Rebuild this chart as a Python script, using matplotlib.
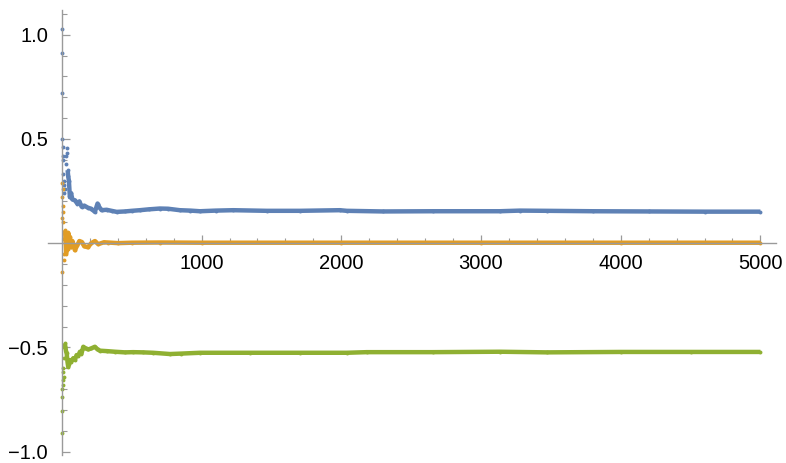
import numpy as np
import matplotlib
matplotlib.use("Agg")
import matplotlib.pyplot as plt
from matplotlib.ticker import MultipleLocator, FixedLocator

plt.rcParams["font.family"] = ["Liberation Sans", "DejaVu Sans"]

# ── values (running estimates vs. sample count) ──
blue_x = [1, 2, 3, 4, 5, 6, 8, 10, 12, 15, 18, 22, 26, 30, 34, 38, 41, 45, 50,
          57, 65, 75, 93, 110, 125, 141, 160, 186, 210, 236, 255, 270, 284,
          320, 355, 392, 451, 500, 558, 620, 701, 760, 844, 920, 988, 1100,
          1226, 1466, 1703, 1989, 2039, 2297, 2656, 3134, 3278, 3471, 3800,
          4200, 4600, 5000]
blue_y = [1.026, 0.91, 0.72, 0.50, 0.46, 0.42, 0.40, 0.33, 0.28, 0.24, 0.30,
          0.26, 0.38, 0.42, 0.454, 0.43, 0.35, 0.32, 0.30, 0.22, 0.24, 0.21,
          0.205, 0.19, 0.20, 0.175, 0.18, 0.17, 0.165, 0.15, 0.19, 0.17,
          0.158, 0.16, 0.155, 0.150, 0.152, 0.155, 0.158, 0.162, 0.166,
          0.165, 0.158, 0.156, 0.153, 0.156, 0.158, 0.155, 0.155, 0.158,
          0.155, 0.152, 0.153, 0.153, 0.156, 0.155, 0.153, 0.152, 0.151,
          0.151]

orange_x = [1, 2, 3, 4, 5, 6, 8, 10, 12, 15, 18, 21, 25, 30, 35, 40, 45, 50,
            57, 65, 75, 93, 110, 125, 141, 160, 186, 210, 236, 260, 300, 330,
            400, 500, 700, 1000, 2000, 3000, 4000, 5000]
orange_y = [-0.14, 0.29, 0.22, 0.12, 0.26, 0.18, 0.15, 0.10, 0.02, -0.08,
            -0.05, 0.062, 0.03, -0.05, 0.0, -0.03, 0.05, 0.02, 0.03, -0.02,
            0.01, -0.034, -0.01, 0.01, 0.006, -0.015, -0.02, 0.0, 0.01,
            -0.005, 0.004, 0.003, 0.0, 0.002, 0.003, 0.002, 0.002, 0.002,
            0.002, 0.002]

green_x = [1, 2, 3, 4, 5, 6, 8, 10, 12, 15, 18, 21, 25, 30, 34, 40, 45, 50,
           57, 65, 81, 93, 105, 117, 129, 140, 153, 170, 188, 210, 236, 255,
           272, 320, 379, 451, 510, 580, 653, 773, 850, 988, 1345, 1703,
           2039, 2182, 2656, 3134, 3471, 4000, 4500, 5000]
green_y = [-0.911, -0.806, -0.737, -0.70, -0.657, -0.68, -0.62, -0.60, -0.64,
           -0.55, -0.50, -0.48, -0.50, -0.52, -0.528, -0.57, -0.593, -0.58,
           -0.561, -0.57, -0.552, -0.56, -0.537, -0.54, -0.521, -0.53,
           -0.497, -0.505, -0.51, -0.505, -0.497, -0.51, -0.516, -0.518,
           -0.521, -0.524, -0.523, -0.524, -0.526, -0.532, -0.530, -0.526,
           -0.526, -0.526, -0.526, -0.523, -0.523, -0.521, -0.524, -0.522,
           -0.522, -0.522]

series = [
    (blue_x, blue_y, "#5E81B5", 40),
    (orange_x, orange_y, "#E19C24", 20),
    (green_x, green_y, "#8FB032", 20),
]

fig = plt.figure(figsize=(7.86, 4.63), dpi=100)
ax = fig.add_axes([0.061, 0.017, 0.926, 0.961])

for xs, ys, col, start in series:
    xs = np.asarray(xs)
    ys = np.asarray(ys)
    ax.plot(xs, ys, "o", ms=2.8, color=col, mec="none")
    band = xs >= start
    ax.plot(xs[band], ys[band], "-", lw=3.2, color=col, solid_capstyle="butt")

ax.set_xlim(-100, 5110)
ax.set_ylim(-1.017, 1.1175)

# Mathematica-style axes crossing at the origin
axis_col = "#9a9a9a"
for side in ("top", "right"):
    ax.spines[side].set_visible(False)
ax.spines["left"].set_position(("data", 0))
ax.spines["bottom"].set_position(("data", 0))
for side in ("left", "bottom"):
    ax.spines[side].set_color(axis_col)
    ax.spines[side].set_linewidth(1.0)

ax.xaxis.set_major_locator(FixedLocator([1000, 2000, 3000, 4000, 5000]))
ax.xaxis.set_minor_locator(MultipleLocator(200))
ax.yaxis.set_major_locator(FixedLocator([-1.0, -0.5, 0.5, 1.0]))
ax.yaxis.set_minor_locator(MultipleLocator(0.1))
ax.set_xticklabels(["1000", "2000", "3000", "4000", "5000"])
ax.set_yticklabels(["\u22121.0", "\u22120.5", "0.5", "1.0"])

ax.tick_params(axis="both", which="major", direction="in", length=6,
               width=0.9, color=axis_col, labelsize=14.5, labelcolor="black")
ax.tick_params(axis="both", which="minor", direction="in", length=3.5,
               width=0.8, color=axis_col)
ax.tick_params(axis="x", which="major", pad=8)
ax.tick_params(axis="y", which="major", pad=10)

fig.savefig("out.png", dpi=100)
